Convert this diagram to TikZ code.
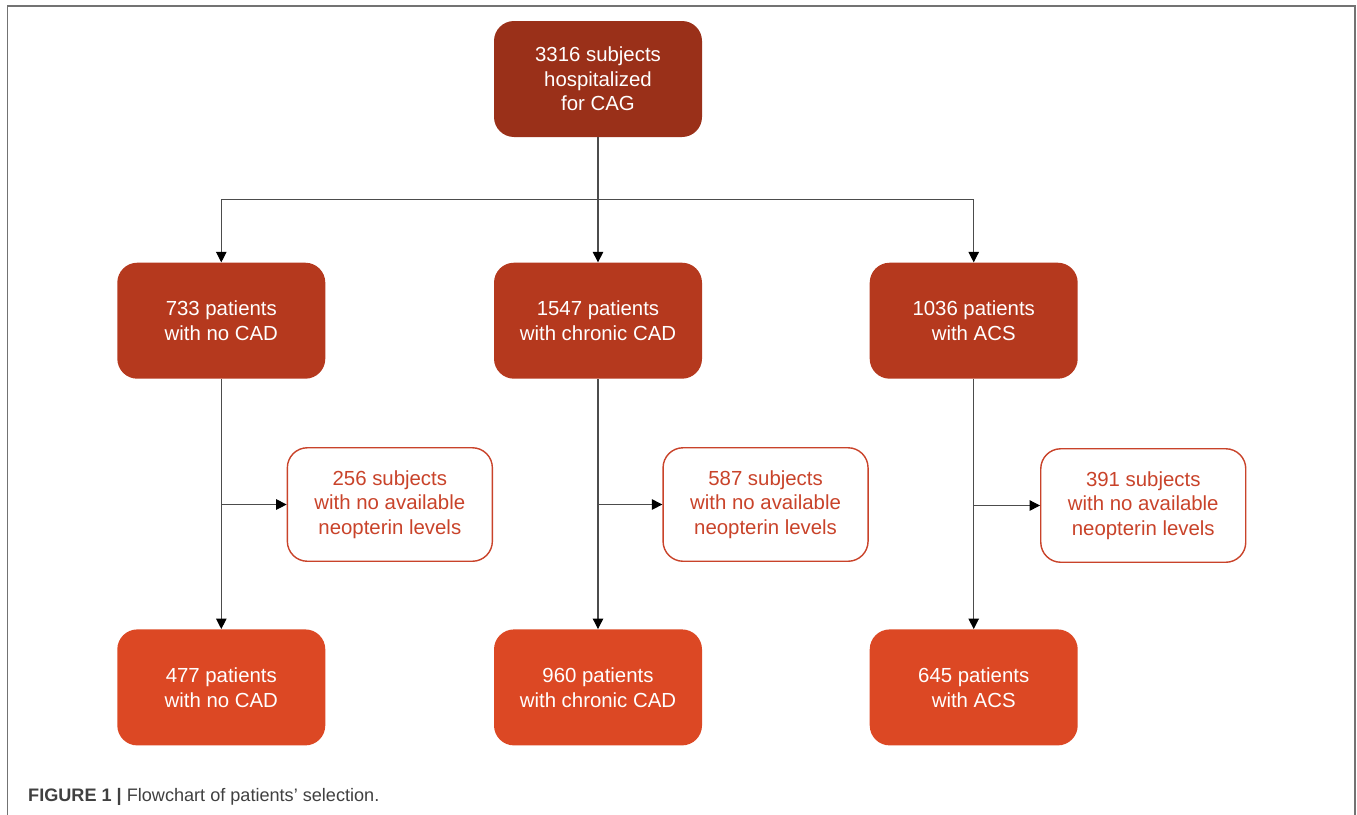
\documentclass[tikz,border=0pt]{standalone}
\usepackage{fontspec}
\setmainfont{Liberation Sans}
\usepackage{tikz}
\usetikzlibrary{positioning,arrows.meta}
\newcommand{\flowdefinitions}{%
  % color of the box of all subjects
  \definecolor{colTop}{HTML}{9A3019}
  % color of the boxes of the three groups
  \definecolor{colMid}{HTML}{B5391E}
  % color of the boxes of the selected patients
  \definecolor{colLow}{HTML}{DC4824}
  % color of the boxes of the excluded subjects
  \definecolor{colOut}{HTML}{C9432A}
  % color of the connectors
  \colorlet{colLine}{black!70}
  % color of the frame
  \colorlet{colFrame}{black!55}
}

\begin{document}
\begin{tikzpicture}[
  box/.style={rounded corners=0.4cm, minimum width=4.16cm, minimum height=2.32cm,
    inner sep=0pt, align=center, font=\fontsize{11.6}{14}\selectfont},
  topbox/.style={box, fill=colTop, text=white},
  midbox/.style={box, fill=colMid, text=white},
  lowbox/.style={box, fill=colLow, text=white},
  outbox/.style={box, draw=colOut, line width=0.8pt, fill=white, text=colOut,
    minimum width=4.1cm, minimum height=2.27cm},
  conn/.style={draw=colLine, line width=0.6pt,
    -{Triangle[length=6pt,width=6pt,color=black]}},
  ]

  % define colors
  \flowdefinitions

  % page size and frame
  \useasboundingbox (0,0) rectangle (27.14,-16.28);
  \draw[colFrame, line width=1.1pt] (0.15,-16.4) -- (0.15,-0.12) -- (27.1,-0.12) -- (27.1,-16.4);

  % all hospitalized subjects
  \node[topbox] (subjects) at (11.96,-1.58) {3316 subjects\\hospitalized\\for CAG};
  \coordinate[below=1.25cm of subjects] (split);

  % the three groups
  \node[midbox] [below=2.5cm of subjects] (chronic) {1547 patients\\with chronic CAD};
  \node[midbox] [left=3.36cm of chronic] (nocad) {733 patients\\with no CAD};
  \node[midbox] [right=3.34cm of chronic] (acs) {1036 patients\\with ACS};

  % excluded subjects for each group
  \node[outbox] [below right=1.36cm and -0.78cm of nocad] (nocadout) {256 subjects\\with no available\\neopterin levels};
  \node[outbox] [below right=1.36cm and -0.8cm of chronic] (chronicout) {587 subjects\\with no available\\neopterin levels};
  \node[outbox] [below right=1.38cm and -0.76cm of acs] (acsout) {391 subjects\\with no available\\neopterin levels};

  % selected patients for each group
  \node[lowbox] [below=5cm of nocad] (nocadsel) {477 patients\\with no CAD};
  \node[lowbox] [below=5cm of chronic] (chronicsel) {960 patients\\with chronic CAD};
  \node[lowbox] [below=5cm of acs] (acssel) {645 patients\\with ACS};

  % connectors
  \draw[conn] (subjects) -- (chronic);
  \draw[conn] (split) -| (nocad);
  \draw[conn] (split) -| (acs);
  \draw[conn] (nocad) -- (nocadsel);
  \draw[conn] (chronic) -- (chronicsel);
  \draw[conn] (acs) -- (acssel);
  \draw[conn] (nocadout.west -| nocad) -- (nocadout.west);
  \draw[conn] (chronicout.west -| chronic) -- (chronicout.west);
  \draw[conn] (acsout.west -| acs) -- (acsout.west);

  % caption
  \node[anchor=base west, font=\fontsize{10.3}{12}\selectfont, text=black!75] (caption) at (0.44,-16.03)
    {\textbf{FIGURE 1 |} Flowchart of patients’ selection.};

\end{tikzpicture}
\end{document}
